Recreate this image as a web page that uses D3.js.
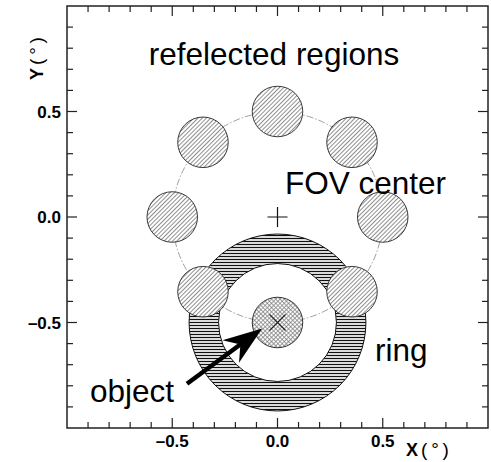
<!DOCTYPE html>
<html><head><meta charset="utf-8">
<script src="https://cdn.jsdelivr.net/npm/d3@7"></script>
<style>body{margin:0;background:#fff}</style>
</head><body><svg id="c" width="491" height="462"></svg>
<script>
// ---- data ----
const xDomain = [-1, 1];
const yDomain = [-1, 1];
const majorTicks = [-0.5, 0, 0.5];
const majorTickLabels = ["\u20130.5", "0.0", "0.5"];
const minorTicks = [-0.9,-0.8,-0.7,-0.6,-0.4,-0.3,-0.2,-0.1,0.1,0.2,0.3,0.4,0.6,0.7,0.8,0.9];
const regionX = [0.5, 0.354, 0, -0.354, -0.5, -0.354, 0.354];
const regionY = [0, 0.354, 0.5, 0.354, 0, -0.354, -0.354];
const regionRadius = 0.12;
const fovCenter = [0, 0];
const offsetRadius = 0.5;
const objectPos = [0, -0.5];
const objectRadius = 0.12;
const ringInner = 0.28;
const ringOuter = 0.42;
const arrowStart = [-0.43, -0.79];
const arrowTip = [-0.073, -0.528];
const labels = ["refelected regions", "FOV center", "ring", "object"];

// ---- layout ----
const svg = d3.select("#c");
const L = 67, R = 488, T = 6, B = 428;
const x = d3.scaleLinear(xDomain, [L, R]);
const y = d3.scaleLinear(yDomain, [B, T]);
const rpx = v => x(v) - x(0);

svg.append("rect").attr("width", 491).attr("height", 462).attr("fill", "#fff");

const defs = svg.append("defs");
const pd = defs.append("pattern").attr("id", "diag").attr("patternUnits", "userSpaceOnUse")
  .attr("width", 3).attr("height", 3).attr("patternTransform", "rotate(45)");
pd.append("rect").attr("width", 3).attr("height", 3).attr("fill", "#fff");
pd.append("line").attr("x1", 1.5).attr("x2", 1.5).attr("y1", 0).attr("y2", 3).attr("stroke", "#6a6a6a").attr("stroke-width", 0.75);

const pc = defs.append("pattern").attr("id", "cross").attr("patternUnits", "userSpaceOnUse")
  .attr("width", 3).attr("height", 3).attr("patternTransform", "rotate(45)");
pc.append("rect").attr("width", 3).attr("height", 3).attr("fill", "#fff");
pc.append("line").attr("x1", 1.5).attr("x2", 1.5).attr("y1", 0).attr("y2", 3).attr("stroke", "#777").attr("stroke-width", 0.7);
pc.append("line").attr("x1", 0).attr("x2", 3).attr("y1", 1.5).attr("y2", 1.5).attr("stroke", "#777").attr("stroke-width", 0.7);

const ph = defs.append("pattern").attr("id", "horiz").attr("patternUnits", "userSpaceOnUse")
  .attr("width", 6).attr("height", 3);
ph.append("rect").attr("width", 6).attr("height", 3).attr("fill", "#fff");
ph.append("line").attr("x1", 0).attr("x2", 6).attr("y1", 1.5).attr("y2", 1.5).attr("stroke", "#111").attr("stroke-width", 1.3);

// dashed off-region circle
svg.append("circle").attr("cx", x(fovCenter[0])).attr("cy", y(fovCenter[1])).attr("r", rpx(offsetRadius))
  .attr("fill", "none").attr("stroke", "#888").attr("stroke-width", 0.8).attr("stroke-dasharray", "7,2,1.5,2");

// ring (annulus)
const cx0 = x(objectPos[0]), cy0 = y(objectPos[1]);
const ro = rpx(ringOuter), ri = rpx(ringInner);
const ann = d3.path();
ann.moveTo(cx0 + ro, cy0); ann.arc(cx0, cy0, ro, 0, 2 * Math.PI);
ann.moveTo(cx0 + ri, cy0); ann.arc(cx0, cy0, ri, 0, 2 * Math.PI);
svg.append("path").attr("d", ann.toString()).attr("fill", "url(#horiz)").attr("fill-rule", "evenodd")
  .attr("stroke", "#111").attr("stroke-width", 1);

// object circle
svg.append("circle").attr("cx", cx0).attr("cy", cy0).attr("r", rpx(objectRadius))
  .attr("fill", "url(#cross)").attr("stroke", "#333").attr("stroke-width", 1);

// reflected regions
svg.selectAll("circle.reg").data(regionX.map((v, i) => [v, regionY[i]])).enter()
  .append("circle").attr("class", "reg")
  .attr("cx", d => x(d[0])).attr("cy", d => y(d[1])).attr("r", rpx(regionRadius))
  .attr("fill", "url(#diag)").attr("stroke", "#3a3a3a").attr("stroke-width", 1);

// markers
const fx = x(fovCenter[0]), fy = y(fovCenter[1]);
svg.append("path").attr("d", `M${fx-10},${fy}H${fx+10}M${fx},${fy-10}V${fy+10}`)
  .attr("stroke", "#111").attr("stroke-width", 1.2);
const h = 8;
svg.append("path").attr("d", `M${cx0-h},${cy0-h}L${cx0+h},${cy0+h}M${cx0-h},${cy0+h}L${cx0+h},${cy0-h}`)
  .attr("stroke", "#222").attr("stroke-width", 1.1);

// arrow
const sx = x(arrowStart[0]), sy = y(arrowStart[1]);
const tx = x(arrowTip[0]), ty = y(arrowTip[1]);
const ang = Math.atan2(ty - sy, tx - sx);
const ux = Math.cos(ang), uy = Math.sin(ang), nx = -uy, ny = ux;
const HL = 39, HW = 14, NT = 27;
const bx = tx - ux * HL, by = ty - uy * HL;
const notchX = tx - ux * NT, notchY = ty - uy * NT;
svg.append("line").attr("x1", sx).attr("y1", sy).attr("x2", notchX + ux * 2).attr("y2", notchY + uy * 2)
  .attr("stroke", "#000").attr("stroke-width", 4.5);
svg.append("path")
  .attr("d", `M${tx},${ty}L${bx + nx * HW},${by + ny * HW}L${notchX},${notchY}L${bx - nx * HW},${by - ny * HW}Z`)
  .attr("fill", "#000");

// annotation texts
const big = {"font-family": "'Liberation Sans', Arial, sans-serif", "font-size": "31.5px", "fill": "#000"};
function txt(s, px, py, anchor) {
  const t = svg.append("text").attr("x", px).attr("y", py).attr("text-anchor", anchor).text(s);
  Object.entries(big).forEach(([k, v]) => t.attr(k, v));
  return t;
}
txt(labels[0], 274, 65, "middle");
txt(labels[1], 285, 194, "start");
txt(labels[2], 375, 361, "start");
txt(labels[3], 90, 402, "start");

// axes: frame + inward ticks
const axG = svg.append("g").attr("stroke", "#222").attr("stroke-width", 1.2);
const tickSet = majorTicks.map(v => [v, 10]).concat(minorTicks.map(v => [v, 6]));
tickSet.forEach(([v, len]) => {
  axG.append("line").attr("x1", x(v)).attr("x2", x(v)).attr("y1", B).attr("y2", B - len);
  axG.append("line").attr("x1", x(v)).attr("x2", x(v)).attr("y1", T).attr("y2", T + len);
  axG.append("line").attr("y1", y(v)).attr("y2", y(v)).attr("x1", L).attr("x2", L + len);
  axG.append("line").attr("y1", y(v)).attr("y2", y(v)).attr("x1", R).attr("x2", R - len);
});
svg.append("rect").attr("x", L).attr("y", T).attr("width", R - L).attr("height", B - T)
  .attr("fill", "none").attr("stroke", "#222").attr("stroke-width", 1.5);

const tf = "'Liberation Sans', Arial, sans-serif";
majorTicks.forEach((v, i) => {
  svg.append("text").attr("x", x(v)).attr("y", 447).attr("text-anchor", "middle")
    .attr("font-family", tf).attr("font-weight", "bold").attr("font-size", "17px").text(majorTickLabels[i]);
  svg.append("text").attr("x", 61).attr("y", y(v) + 6).attr("text-anchor", "end")
    .attr("font-family", tf).attr("font-weight", "bold").attr("font-size", "17px").text(majorTickLabels[i]);
});

// axis titles
const xt = svg.append("text").attr("x", 406).attr("y", 456).attr("font-family", tf);
xt.append("tspan").attr("font-weight", "bold").attr("font-size", "18px").text("X");
xt.append("tspan").attr("font-size", "19px").attr("dx", 3).text("(\u2009\u00b0\u2009)");
const yt = svg.append("text").attr("transform", "translate(43,80) rotate(-90)").attr("font-family", tf);
yt.append("tspan").attr("font-weight", "bold").attr("font-size", "18px").text("Y");
yt.append("tspan").attr("font-size", "19px").attr("dx", 3).text("(\u2009\u00b0\u2009)");
</script></body></html>
